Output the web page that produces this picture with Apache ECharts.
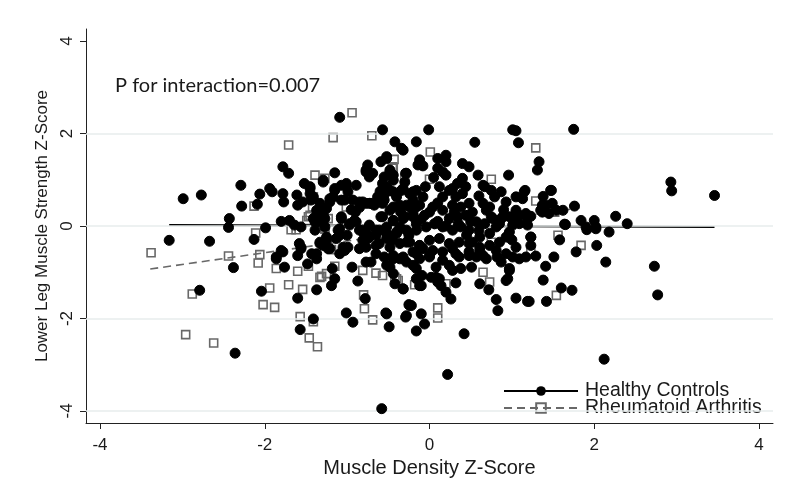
<!DOCTYPE html>
<html><head><meta charset="utf-8">
<script src="https://cdn.jsdelivr.net/npm/echarts@6/dist/echarts.min.js"></script>
<style>html,body{margin:0;background:#fff}#c{width:800px;height:495px}</style>
</head><body><div id="c"></div>
<script>
const xTicks = [-4, -2, 0, 2, 4];
const yTicks = [-4, -2, 0, 2, 4];
const gridValues = [-4, -2, 0, 2];
const annotation = 'P for interaction=0.007';

const healthyControls = [
[-2.99,0.59],[-2.77,0.67],[-2.29,0.88],[-2.28,0.43],[-2.43,0.16],[-2.44,-0.03],[-3.16,-0.31],[-2.67,-0.33],[-2.13,-0.29],[-1.99,-0.04],[-2.09,0.47],
[-2.06,0.69],[-1.94,0.81],[-1.91,0.74],[-1.78,0.70],[-1.77,0.52],[-1.61,0.67],[-1.60,0.45],[-1.52,0.92],[-1.45,0.81],[-1.44,0.56],[-1.78,1.28],[-1.71,1.14],
[-1.80,0.10],[-1.70,0.12],[-1.64,0.02],[-1.56,-0.02],[-1.41,0.16],[-1.39,-0.09],[-1.58,-0.38],[-1.56,-0.46],[-1.78,-0.56],[-1.86,-0.67],[-1.60,-0.64],[-1.43,-0.60],
[-1.45,0.85],[-1.45,0.70],[-1.41,0.63],[-1.33,0.49],[-1.54,0.52],[-1.29,0.99],[-1.15,1.15],
[-1.15,0.77],[-1.17,0.63],[-1.21,0.52],[-1.25,0.38],[-1.31,0.34],[-1.29,0.20],
[-1.37,0.23],[-1.39,0.12],[-1.33,0.09],[-1.27,0.16],
[-1.07,0.88],[-1.01,0.92],[-0.99,0.74],[-1.03,0.56],[-0.89,0.88],[-0.93,0.56],[-0.85,0.52],[-0.77,0.49],[-0.71,0.49],
[-1.07,0.16],[-0.91,0.12],[-0.97,0.02],[-1.09,-0.06],[-0.73,0.02],[-0.81,-0.09],
[-0.77,1.21],[-0.75,1.32],[-0.69,1.14],[-0.59,1.39],[-0.52,1.46],[-0.42,1.82],[-0.34,1.68],[-0.57,2.08],
[-0.48,1.17],[-0.44,0.99],[-0.28,1.14],[-0.30,0.95],[-0.52,0.85],[-0.55,0.67],[-0.44,0.74],[-0.34,0.77],[-0.20,0.74],[-0.57,0.49],[-0.44,0.41],[-0.28,0.45],[-0.20,0.56],[-0.16,0.41],
[-0.57,0.20],[-0.44,0.12],[-0.32,0.16],[-0.20,0.20],[-0.52,-0.02],[-0.36,-0.02],[-0.16,0.05],[-0.61,-0.09],[-0.81,-0.13],
[-0.16,1.82],[-1.09,2.35],[-0.32,1.64],[-0.01,2.08],[0.55,1.81],[1.01,2.08],[1.05,2.06],[1.08,1.80],[0.96,1.10],[1.33,1.39],[1.31,1.21],
[-0.77,1.17],[-0.73,1.06],[-0.52,1.50],[-0.48,1.21],[-0.55,1.06],[-0.44,1.10],[-0.29,1.14],[-0.14,1.32],[-0.08,1.30],[-0.12,1.43],
[0.10,1.46],[0.20,1.53],[0.20,1.39],[0.10,1.25],[0.16,1.17],[0.20,1.10],[0.40,1.35],[0.48,1.28],[0.59,1.10],[0.65,0.88],[0.40,1.03],[0.34,0.92],[0.28,0.81],
[0.75,0.77],[0.79,0.63],[0.87,0.74],[0.93,0.52],[1.05,0.63],[1.16,0.77],[1.13,0.59],
[0.89,0.20],[1.01,0.20],[1.09,0.23],[1.19,0.16],[1.19,0.02],[1.23,-0.24],[1.05,-0.46],[0.97,-0.13],[1.01,0.02],
[-1.29,0.95],[-1.15,0.81],[-1.01,0.85],[-0.81,0.52],[-0.73,0.49],[-1.07,0.56],[-1.21,0.59],
[-1.37,0.34],[-1.29,0.27],[-1.39,0.09],[-1.27,-0.02],[-1.07,0.20],[-0.97,0.05],[-0.89,0.09],[-1.11,-0.09],[-1.25,-0.24],[-1.33,-0.38],[-1.23,-0.49],[-1.05,-0.46],[-1.09,-0.60],[-1.37,-0.60],
[-0.57,0.92],[-0.48,0.77],[-0.55,0.56],[-0.40,0.63],[-0.32,0.81],[-0.24,0.70],[-0.16,0.77],[-0.08,0.63],[-0.12,0.45],[-0.24,0.41],[-0.36,0.45],[-0.48,0.34],[-0.59,0.20],[-0.44,0.12],[-0.30,0.20],[-0.20,0.27],[-0.06,0.23],[0.04,0.41],
[0.12,0.85],[0.16,0.63],[0.24,0.77],[0.32,0.63],[0.40,0.70],[0.44,0.85],[0.48,0.49],[0.38,0.41],[0.28,0.45],[0.16,0.34],[0.24,0.16],[0.34,0.20],[0.44,0.23],[0.52,0.30],[0.65,0.49],[0.73,0.41],
[0.57,0.09],[0.67,0.05],[0.77,0.16],[0.81,-0.02],[0.73,-0.16],[0.61,-0.24],[0.48,-0.09],[0.38,-0.02],[0.28,-0.09],[0.16,-0.02],[0.06,0.05],[-0.04,-0.02],[-0.16,-0.09],[-0.28,-0.09],[-0.40,-0.13],[-0.52,-0.16],[-0.65,-0.09],
[-0.73,-0.24],[-0.61,-0.38],[-0.48,-0.46],[-0.36,-0.38],[-0.24,-0.35],[-0.12,-0.42],[0.00,-0.31],[0.12,-0.27],[0.24,-0.38],[0.36,-0.35],[0.48,-0.38],[0.61,-0.46],[0.73,-0.42],[0.85,-0.35],[0.93,-0.24],
[0.81,-0.53],[0.93,-0.60],[0.65,-0.64],[0.48,-0.64],[0.32,-0.60],[0.16,-0.56],[0.00,-0.64],[-0.16,-0.60],[-0.32,-0.67],[-0.44,-0.64],[-0.65,-0.60],[-0.77,-0.46],[-0.85,-0.09],[-0.81,-0.31],[-0.67,0.45],[-0.63,0.63],
[0.00,0.30],[0.10,0.50],[-0.10,0.15],[0.20,0.00],[0.35,0.05],[0.50,0.10],[-0.35,0.30],[-0.90,0.30],[-1.00,-0.20],[-0.60,0.75],[0.60,0.65],[0.90,0.35],[-0.05,0.85],[0.05,1.05],
[-0.95,0.35],[-0.85,0.40],[0.30,0.30],[0.10,0.10],[-0.25,-0.20],[0.45,-0.20],[0.60,-0.10],[-0.45,-0.30],[0.85,0.05],[1.00,-0.30],
[-0.94,-0.89],[-1.18,-0.92],[-1.15,-1.14],[-1.19,-1.29],[-1.37,-1.38],[-0.87,-1.19],[-1.01,-1.88],[-0.93,-2.08],[-0.78,-1.57],[-0.53,-1.88],[-0.49,-2.18],[-0.29,-1.97],[-0.25,-1.70],[-0.32,-1.36],[-0.42,-1.25],[-0.44,-1.03],[-0.48,-0.89],
[-0.10,-1.90],[-0.06,-2.12],[-0.16,-2.27],[-0.09,-1.07],[-0.10,-1.29],[0.08,-1.11],[0.10,-1.21],[0.20,-1.43],[0.26,-1.58],[0.32,-1.23],[0.42,-2.33],[0.22,-3.21],[-0.58,-3.95],
[0.61,-1.25],[0.72,-1.38],[0.81,-1.59],[0.83,-1.83],[1.05,-1.56],[1.19,-1.63],[0.93,-1.18],[0.97,-0.96],[1.17,-0.67],[-1.41,-2.01],
[-2.38,-0.90],[-1.80,-0.53],[-1.86,-0.71],[-1.76,-0.89],[-1.56,-0.49],[-1.48,-0.82],[-1.37,-0.71],[-1.33,-0.35],[-1.29,-0.42],[-1.21,-0.49],[-1.25,-0.31],[-1.13,-0.27],[-1.09,-0.20],[-1.03,-0.53],[-0.99,-0.46],[-0.85,-0.49],[-0.77,-0.78],[-0.71,-0.78],[-0.75,-0.27],[-0.65,-0.20],
[-1.60,-1.56],[-2.04,-1.41],[-0.52,-0.85],[-0.36,-0.71],[-0.55,-0.67],[-0.16,-0.92],[-2.79,-1.39],[-1.57,-2.24],[-2.36,-2.75],
[-0.77,-0.13],[-0.65,-0.42],[-0.52,-0.27],[-0.40,-0.16],[-0.28,-0.35],[-0.20,-0.56],[-0.44,-0.71],[-0.28,-0.78],[-0.16,-1.14],[-0.12,-0.42],[-0.32,-1.36],[-0.24,-1.72],[-0.28,-1.94],[-0.52,-1.90],
[0.14,-1.29],[0.02,-1.11],[-0.12,-1.29],[-0.22,-1.72],[0.12,-1.14],[1.09,-0.71],[1.01,-0.67],[0.97,-0.92],[0.95,-1.14],[0.82,-0.67],[0.87,-0.78],
[0.28,-0.96],[0.38,-0.92],[0.51,-0.89],[0.57,-0.67],[0.69,-0.71],[0.61,-0.53],[0.48,-0.56],[0.36,-0.67],[0.24,-0.85],[0.16,-0.74],[0.08,-0.89],[0.00,-0.67],[-0.12,-0.71],[-0.20,-0.85],[-0.08,-0.49],[0.04,-0.53],[0.28,-0.49],[0.52,-0.35],
[1.29,-0.65],[1.51,-0.67],[1.41,-0.87],[1.78,-0.56],[2.14,-0.78],[2.73,-0.87],[1.38,-1.17],[1.60,-1.34],[1.73,-1.39],[1.42,-1.63],[1.21,-1.63],[2.77,-1.49],[2.12,-2.88],
[2.26,0.21],[2.40,0.05],[2.18,-0.13],[2.03,-0.42],[2.02,-0.02],[2.00,0.12],[1.91,-0.08],[1.84,0.12],[1.65,0.03],[1.58,-0.30],[1.76,0.43],[1.62,0.34],[1.48,0.77],[1.38,0.64],[1.49,0.49],[1.37,0.45],[1.35,0.34],
[2.93,0.95],[2.94,0.76],[3.46,0.66],[1.75,2.09],[1.23,0.21],[1.23,-0.24],[1.23,-0.42],
[0.67,0.85],[1.15,0.74],[1.05,0.34],[0.97,0.20],[0.87,0.16],[0.75,0.20],[0.69,0.34],[1.17,0.27],[1.09,0.05],[1.41,0.45],[1.54,0.34],[1.45,0.27],[1.37,0.30],[1.47,0.77],[1.64,0.04],[1.90,-0.02],[2.02,-0.06]
];

const rheumatoidArthritis = [
[-1.71,1.75],[-1.39,1.10],[-2.13,0.43],[-2.11,-0.15],[-1.68,-0.08],[-1.62,-0.08],[-1.47,0.20],[-1.42,0.41],[-3.38,-0.58],[-2.44,-0.65],[-2.06,-0.62],
[-2.08,-0.80],[-1.86,-0.92],[-1.60,-0.98],[-1.47,-0.87],[-1.33,-1.11],[-1.71,-1.27],[-1.94,-1.34],[-1.54,-1.37],[-2.02,-1.70],[-1.88,-1.76],[-2.88,-1.47],[-1.57,-1.96],[-1.41,-2.07],[-1.46,-2.42],[-1.36,-2.61],[-2.96,-2.35],[-2.62,-2.53],
[-1.27,-0.07],[-1.19,-0.51],[-1.25,-1.03],[-1.15,-0.87],[-0.81,-0.96],[-0.65,-1.02],[-0.57,-1.07],[-0.40,-1.14],[-0.18,-1.27],[-0.80,-1.49],[-0.79,-1.79],[-0.69,-2.03],
[-1.31,-1.09],[-0.42,-1.11],[-0.38,-1.18],[0.20,-1.25],[0.73,-1.21],[0.10,-1.77],[0.10,-1.99],
[1.56,-0.20],[1.84,-0.42],[1.23,-0.53],[0.65,-1.00],[1.54,-1.50],
[1.29,1.69],[1.29,0.54],[1.52,0.30],
[-0.94,2.45],[-1.17,1.91],[-0.70,1.95],[-0.43,1.44],[0.01,1.60],[-0.44,1.25],[-0.30,1.03],[0.00,1.01],[0.75,1.01],[-1.27,1.03],[-1.41,0.63],[-1.01,0.41],[-1.23,0.16],[-1.27,-0.06],[0.75,-0.35],
[-0.45,1.28],[-1.45,0.23],[-1.49,0.12]
];

const hcFit = [[-3.16, 0.02], [3.46, -0.02]];
const raFit = [[-3.39, -0.93], [1.82, 0.39]];

const FONT = '"Liberation Sans", Arial, sans-serif';
const INK = '#1a1a1a';
const GRAY = '#686868';

const chart = echarts.init(document.getElementById('c'), null, {renderer: 'canvas'});
chart.setOption({
  animation: false,
  backgroundColor: '#fff',
  title: {
    text: annotation, left: 110, top: 71,
    textStyle: {fontFamily: 'Lato, "Open Sans", sans-serif', fontWeight: 'normal', fontSize: 20, color: INK}
  },
  legend: {
    data: ['Healthy Controls', 'Rheumatoid Arthritis'],
    orient: 'vertical', left: 503, top: 381, padding: 0,
    itemWidth: 74, itemHeight: 12, itemGap: -3, selectedMode: false,
    textStyle: {fontFamily: FONT, fontSize: 19.5, lineHeight: 18, color: INK, padding: [0, 0, 0, 2]}
  },
  grid: {left: 86, right: 27, top: 29, bottom: 72, containLabel: false},
  xAxis: {
    type: 'value', min: -4.17, max: 4.17,
    name: 'Muscle Density Z-Score', nameLocation: 'middle', nameGap: 33,
    nameTextStyle: {fontFamily: FONT, fontSize: 20, color: INK},
    axisLine: {show: true, onZero: false, lineStyle: {color: '#222', width: 1}},
    axisTick: {show: true, length: 6, customValues: xTicks, lineStyle: {color: '#222'}},
    axisLabel: {customValues: xTicks, fontFamily: FONT, fontSize: 17, color: INK, margin: 14},
    splitLine: {show: false}
  },
  yAxis: {
    type: 'value', min: -4.26, max: 4.26,
    name: 'Lower Leg Muscle Strength Z-Score', nameLocation: 'middle', nameGap: 34,
    nameTextStyle: {fontFamily: FONT, fontSize: 17, color: INK},
    axisLine: {show: true, onZero: false, lineStyle: {color: '#222', width: 1}},
    axisTick: {show: true, length: 6, customValues: yTicks, lineStyle: {color: '#222'}},
    axisLabel: {customValues: yTicks, rotate: 90, fontFamily: FONT, fontSize: 17, color: INK, margin: 10},
    splitLine: {show: false}
  },
  series: [
    {
      type: 'line', name: 'grid', data: [], z: 0, silent: true,
      markLine: {
        silent: true, symbol: 'none', label: {show: false},
        lineStyle: {color: '#e7eded', width: 1.5, type: 'solid'},
        data: gridValues.map(v => ({yAxis: v}))
      }
    },
    {
      type: 'scatter', name: 'RA points', data: rheumatoidArthritis, z: 2,
      symbol: 'rect', symbolSize: 8,
      itemStyle: {color: 'rgba(0,0,0,0)', borderColor: GRAY, borderWidth: 1.6, opacity: 1}
    },
    {
      type: 'line', name: 'Rheumatoid Arthritis', data: raFit, z: 3,
      symbol: 'rect', showSymbol: false,
      lineStyle: {color: GRAY, width: 1.6, type: [8, 5]},
      itemStyle: {color: 'rgba(0,0,0,0)', borderColor: GRAY, borderWidth: 1.5}
    },
    {
      type: 'line', name: 'Healthy Controls', data: hcFit, z: 4,
      symbol: 'circle', showSymbol: false,
      lineStyle: {color: '#000', width: 2},
      itemStyle: {color: '#000'}
    },
    {
      type: 'scatter', name: 'HC points', data: healthyControls, z: 5,
      symbol: 'circle', symbolSize: 10,
      itemStyle: {color: '#000', borderColor: '#000', borderWidth: 1, opacity: 1}
    }
  ]
});
</script>
</body></html>
